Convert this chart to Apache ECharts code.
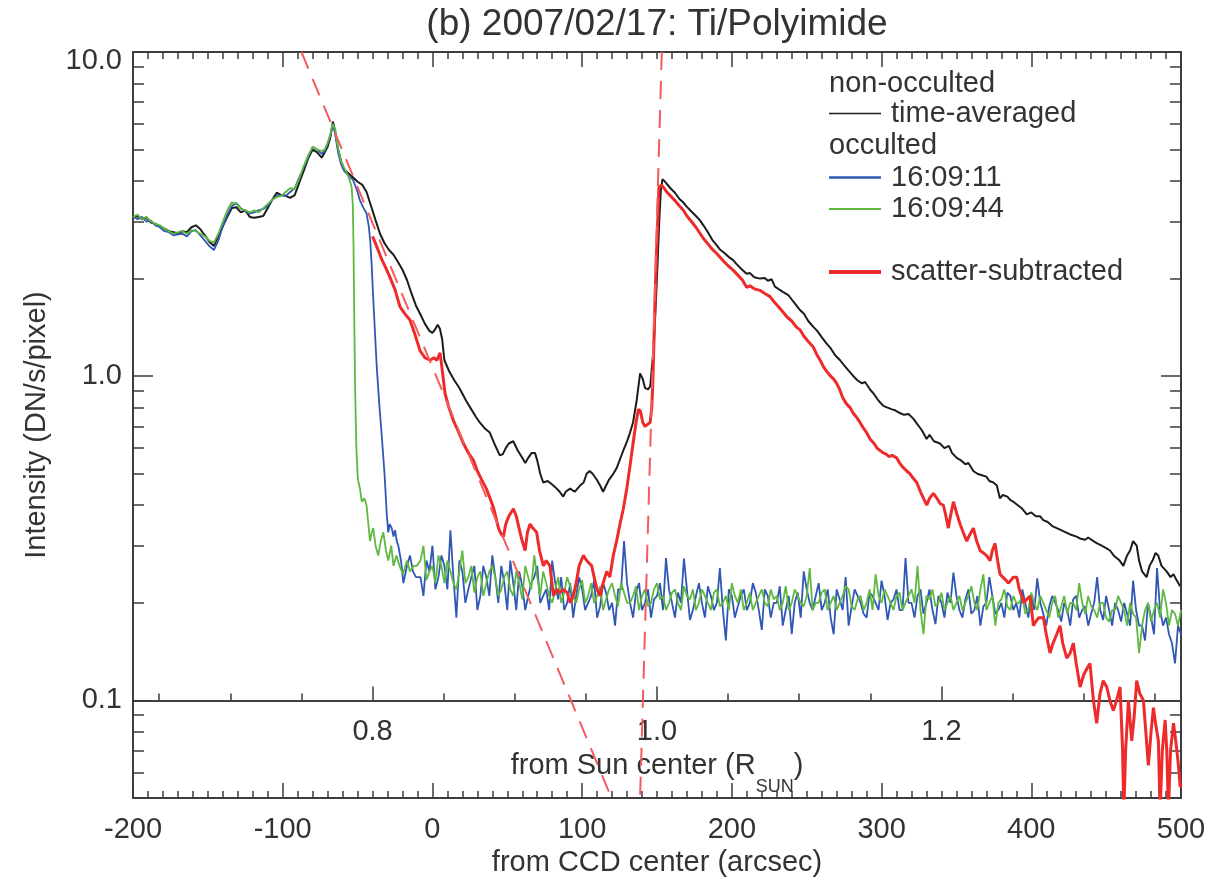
<!DOCTYPE html>
<html><head><meta charset="utf-8">
<script src="https://cdn.jsdelivr.net/npm/echarts@6/dist/echarts.min.js"></script>
<style>html,body{margin:0;padding:0;background:#fff}#c{width:1229px;height:877px}</style>
</head><body><div id="c"></div>
<script>
// ---------------- data (arcsec from CCD center, intensity DN/s/pixel) ----------------
const timeAveraged = [[-200,3.08],[-197,3.12],[-194,3.05],[-191,3.08],[-188,2.98],[-185,2.95],[-182,2.9],[-179,2.85],[-176,2.8],[-173,2.78],[-170,2.76],[-167,2.8],[-164,2.78],[-161,2.88],[-158,2.92],[-155,2.84],[-152,2.72],[-149,2.6],[-146,2.52],[-143,2.7],[-140,2.9],[-137,3.1],[-134,3.3],[-131,3.32],[-128,3.2],[-125,3.25],[-122,3.1],[-119,3.08],[-116,3.1],[-113,3.12],[-110,3.3],[-107,3.5],[-104,3.68],[-101,3.62],[-98,3.6],[-95,3.55],[-92,3.62],[-89,3.95],[-86,4.3],[-83,4.7],[-80,5.0],[-77,4.9],[-74,4.72],[-72,4.9],[-70,5.1],[-68,5.5],[-66.5,6.1],[-65,5.7],[-63,5.0],[-61,4.6],[-59,4.35],[-56,4.22],[-53,4.1],[-50,3.98],[-47,3.9],[-44,3.7],[-41,3.35],[-38,3.03],[-35,2.75],[-32,2.57],[-29,2.45],[-26,2.37],[-23,2.25],[-20,2.13],[-17,1.98],[-14,1.8],[-11,1.65],[-8,1.55],[-5,1.45],[-2,1.38],[0,1.36],[2,1.4],[3.5,1.44],[5,1.4],[6.5,1.3],[8,1.12],[11,1.04],[14.7,0.97],[18,0.92],[22.5,0.84],[26,0.79],[29,0.75],[31.6,0.72],[35,0.69],[38.3,0.67],[42,0.61],[45,0.57],[47,0.575],[49,0.6],[51,0.62],[54,0.63],[57,0.59],[60,0.56],[62,0.54],[64,0.56],[66.3,0.58],[68.5,0.58],[70,0.55],[72,0.5],[74,0.47],[77,0.475],[80.8,0.46],[83,0.45],[85,0.44],[87.4,0.425],[89,0.44],[92,0.45],[95,0.44],[98.6,0.46],[101,0.47],[103,0.5],[105,0.51],[107,0.5],[109.7,0.48],[112,0.46],[114,0.44],[116,0.46],[118,0.48],[120.8,0.5],[123,0.52],[125,0.55],[127.5,0.59],[130,0.63],[132,0.67],[134,0.72],[136.4,0.84],[138.7,1.02],[140.5,0.98],[142,0.92],[144,0.91],[145.5,0.93],[147.6,1.2],[149,1.6],[150.5,2.3],[151.5,3.0],[152.5,3.7],[153.6,4.05],[155,4.0],[156.3,3.93],[159,3.8],[162,3.68],[165,3.52],[167.4,3.44],[170,3.33],[173,3.22],[176,3.12],[178.6,3.03],[181,2.92],[184,2.78],[187,2.63],[189.7,2.54],[192,2.46],[195,2.4],[198,2.33],[200.9,2.28],[203,2.22],[206,2.15],[209.8,2.07],[212,2.08],[215,2.02],[218.8,2.0],[222,2.01],[224,1.97],[226.6,1.99],[228.8,1.89],[231,1.86],[234,1.82],[237.7,1.78],[241,1.7],[245.5,1.6],[248,1.56],[251,1.48],[254.4,1.42],[257,1.38],[260,1.32],[263.3,1.26],[266,1.22],[269,1.16],[272.3,1.12],[275,1.08],[278,1.04],[281.2,1.0],[284,0.97],[287,0.95],[289,0.96],[292.3,0.91],[295,0.88],[298,0.84],[301.2,0.81],[304,0.8],[307,0.79],[309,0.785],[312.3,0.77],[315,0.76],[318,0.765],[321.2,0.74],[324,0.71],[327,0.68],[330.1,0.64],[332,0.66],[335,0.63],[339,0.62],[342,0.6],[345,0.61],[347,0.58],[350.2,0.56],[353,0.55],[356,0.535],[358,0.54],[361.3,0.51],[364,0.5],[367,0.495],[370,0.49],[372,0.475],[374.7,0.47],[377,0.46],[379,0.42],[381,0.43],[384,0.425],[386,0.415],[388,0.41],[391,0.4],[394,0.39],[397,0.375],[400,0.38],[403,0.37],[405.8,0.37],[408,0.36],[411,0.355],[414,0.345],[417,0.34],[420,0.335],[423,0.33],[426,0.325],[430.3,0.32],[433,0.315],[436,0.313],[438,0.318],[441.5,0.31],[444,0.305],[447,0.3],[450,0.295],[452.6,0.29],[455,0.28],[457,0.275],[459,0.27],[461.5,0.26],[464,0.28],[466,0.29],[468,0.31],[470.4,0.3],[472,0.27],[474,0.25],[477,0.24],[479,0.26],[481,0.27],[483,0.285],[484.8,0.28],[487,0.26],[490.4,0.25],[493,0.24],[495,0.245],[497,0.235],[499.4,0.225]];

const occulted1 = [[-200,3.12],[-197,3.05],[-194,3.1],[-191,3.0],[-188,3.02],[-185,2.92],[-182,2.88],[-179,2.8],[-176,2.78],[-173,2.72],[-170,2.74],[-167,2.75],[-164,2.7],[-161,2.8],[-158,2.82],[-155,2.72],[-152,2.62],[-149,2.52],[-146,2.45],[-143,2.62],[-140,2.9],[-137,3.15],[-134,3.35],[-131,3.42],[-128,3.3],[-125,3.22],[-122,3.18],[-119,3.2],[-116,3.25],[-113,3.28],[-110,3.35],[-107,3.5],[-104,3.6],[-101,3.62],[-98,3.6],[-95,3.7],[-92,3.8],[-89,4.1],[-86,4.4],[-83,4.75],[-80,5.1],[-77,5.0],[-74,4.85],[-72,4.95],[-70,5.2],[-68,5.6],[-66.5,6.0],[-65,5.6],[-63,4.9],[-61,4.5],[-59,4.3],[-56,4.15],[-53,4.03],[-50,3.7],[-48.5,3.49],[-46,3.3],[-44,3.18],[-42.5,2.9],[-41.5,2.6],[-40.5,2.17],[-39.7,1.8],[-38.5,1.4],[-37.2,1.07],[-35.5,0.82],[-33.9,0.66],[-32,0.5],[-30.5,0.375],[-29.5,0.33],[-28.5,0.35],[-27.2,0.34],[-26,0.32],[-25,0.335],[-23.8,0.31],[-22.8,0.3],[-21,0.27],[-19.4,0.23],[-17,0.26],[-15,0.28],[-13,0.25],[-11,0.24],
[-8,0.24],[-4,0.27],[0,0.3],[4,0.24],[8,0.26],[12,0.335],[16,0.18],[20,0.25],[24,0.22],[28,0.26],[32,0.21],[36,0.24],[40,0.28],[44,0.2],[48,0.23],[52,0.27],[56,0.19],[60,0.225],[64,0.21],[68,0.24],[72,0.2],[76,0.22],[80,0.27],[84,0.205],[88,0.19],[92,0.23],[96,0.21],[100,0.22],[104,0.2],[108,0.235],[112,0.195],[116,0.215],[120,0.2],[124,0.22],[128,0.31],[132,0.2],[136,0.215],[140,0.19],[144,0.22],[148,0.205],[152,0.23],[156,0.275],[160,0.2],[164,0.215],[168,0.274],[172,0.177],[176,0.21],[180,0.2],[184,0.225],[188,0.19],[192,0.256],[196,0.153],[200,0.21],[204,0.195],[208,0.22],[212,0.2],[216,0.215],[220,0.165],[224,0.21],[228,0.2],[232,0.225],[236,0.19],[240,0.16],[244,0.215],[248,0.25],[252,0.2],[256,0.21],[260,0.19],[264,0.22],[268,0.16],[272,0.205],[276,0.24],[280,0.195],[284,0.21],[288,0.185],[292,0.215],[296,0.2],[300,0.234],[304,0.177],[308,0.205],[312,0.19],[316,0.275],[320,0.2],[324,0.21],[328,0.185],[332,0.22],[336,0.172],[340,0.2],[344,0.215],[348,0.248],[352,0.19],[356,0.205],[360,0.185],[364,0.21],[368,0.195],[372,0.24],[376,0.185],[380,0.2],[384,0.215],[388,0.19],[392,0.18],[396,0.2],[400,0.21],[404,0.238],[408,0.185],[412,0.195],[416,0.2],[420,0.175],[424,0.19],[428,0.205],[432,0.18],[436,0.195],[440,0.185],[444,0.24],[448,0.177],[452,0.19],[456,0.2],[460,0.175],[464,0.185],[468,0.234],[472,0.17],[476,0.153],[480,0.18],[484,0.256],[488,0.17],[492,0.16],[496,0.13],[500,0.16]];

const occulted1Between = [[-6,0.21],[-2,0.25],[2,0.22],[6,0.28],[10,0.22],[14,0.24],[18,0.27],[22,0.2],[26,0.24],[30,0.19],[34,0.26],[38,0.21],[42,0.24],[46,0.26],[50,0.19],[54,0.23],[58,0.25],[62,0.19],[66,0.23],[70,0.26],[74,0.21],[78,0.19],[82,0.23],[86,0.24],[90,0.2],[94,0.18],[98,0.24],[102,0.19],[106,0.21],[110,0.18],[114,0.23],[118,0.19],[122,0.17],[126,0.22],[130,0.23],[134,0.18],[138,0.23],[142,0.2],[146,0.18],[150,0.21],[154,0.19],[158,0.22],[162,0.18],[166,0.2],[170,0.22],[174,0.19],[178,0.23],[182,0.18],[186,0.21],[190,0.2],[194,0.19],[198,0.22],[202,0.18],[206,0.21],[210,0.19],[214,0.23],[218,0.19],[222,0.22],[226,0.18],[230,0.2],[234,0.17],[238,0.21],[242,0.2],[246,0.18],[250,0.22],[254,0.19],[258,0.23],[262,0.2],[266,0.18],[270,0.22],[274,0.19],[278,0.17],[282,0.22],[286,0.2],[290,0.18],[294,0.21],[298,0.19],[302,0.21],[306,0.2],[310,0.22],[314,0.19],[318,0.2],[322,0.18],[326,0.22],[330,0.2],[334,0.19],[338,0.21],[342,0.18],[346,0.2],[350,0.21],[354,0.18],[358,0.22],[362,0.19],[366,0.17],[370,0.2],[374,0.21],[378,0.19],[382,0.18],[386,0.21],[390,0.2],[394,0.22],[398,0.18],[402,0.19],[406,0.2],[410,0.17],[414,0.21],[418,0.19],[422,0.2],[426,0.17],[430,0.21],[434,0.19],[438,0.17],[442,0.2],[446,0.19],[450,0.21],[454,0.17],[458,0.19],[462,0.2],[466,0.17],[470,0.19],[474,0.17],[478,0.2],[482,0.16],[486,0.19],[490,0.18],[494,0.15],[498,0.17]];

const occulted2 = [[-200,3.1],[-197,3.15],[-194,3.05],[-191,3.1],[-188,3.0],[-185,2.95],[-182,2.92],[-179,2.85],[-176,2.8],[-173,2.75],[-170,2.78],[-167,2.8],[-164,2.75],[-161,2.82],[-158,2.8],[-155,2.75],[-152,2.7],[-149,2.62],[-146,2.58],[-143,2.75],[-140,3.0],[-137,3.25],[-134,3.44],[-131,3.4],[-128,3.28],[-125,3.25],[-122,3.2],[-119,3.25],[-116,3.2],[-113,3.3],[-110,3.4],[-107,3.5],[-104,3.57],[-101,3.6],[-98,3.7],[-95,3.8],[-92,3.78],[-89,4.05],[-86,4.45],[-83,4.8],[-80,5.1],[-77,5.0],[-74,4.95],[-72,5.0],[-70,5.25],[-68,5.6],[-66.7,6.0],[-65,5.8],[-63.6,5.2],[-61,4.6],[-59,4.4],[-56,4.12],[-54,3.84],[-53.2,3.4],[-52.7,2.5],[-52.2,1.5],[-51.6,0.9],[-50.8,0.6],[-49.8,0.48],[-48.4,0.45],[-47.2,0.41],[-45.5,0.42],[-44,0.4],[-42.8,0.35],[-41.7,0.31],[-40.5,0.33],[-39.5,0.34],[-38,0.3],[-36.2,0.28],[-34.5,0.31],[-32.8,0.33],[-31,0.29],[-29.5,0.27],[-27.5,0.3],[-26,0.26],[-24,0.28],[-22,0.26],[-19.7,0.245],[-17,0.27],[-15,0.25],[-12.5,0.26],[-10.5,0.26],
[-8,0.27],[-4,0.235],[0,0.26],[4,0.28],[8,0.23],[12,0.25],[16,0.22],[20,0.29],[24,0.24],[28,0.215],[32,0.25],[36,0.23],[40,0.26],[44,0.21],[48,0.24],[52,0.22],[56,0.25],[60,0.205],[64,0.24],[68,0.28],[72,0.21],[76,0.23],[80,0.2],[84,0.24],[88,0.215],[92,0.225],[96,0.2],[100,0.235],[104,0.21],[108,0.2],[112,0.225],[116,0.205],[120,0.23],[124,0.195],[128,0.215],[132,0.2],[136,0.225],[140,0.21],[144,0.195],[148,0.22],[152,0.205],[156,0.19],[160,0.215],[164,0.2],[168,0.225],[172,0.205],[176,0.19],[180,0.22],[184,0.2],[188,0.215],[192,0.195],[196,0.21],[200,0.23],[204,0.2],[208,0.19],[212,0.215],[216,0.2],[220,0.22],[224,0.195],[228,0.205],[232,0.19],[236,0.225],[240,0.2],[244,0.21],[248,0.195],[252,0.256],[256,0.2],[260,0.215],[264,0.19],[268,0.21],[272,0.2],[276,0.225],[280,0.195],[284,0.205],[288,0.19],[292,0.22],[296,0.245],[300,0.2],[304,0.21],[308,0.19],[312,0.215],[316,0.2],[320,0.22],[324,0.26],[328,0.16],[332,0.205],[336,0.195],[340,0.215],[344,0.2],[348,0.19],[352,0.21],[356,0.2],[360,0.225],[364,0.19],[368,0.245],[372,0.2],[376,0.17],[380,0.205],[384,0.195],[388,0.21],[392,0.2],[396,0.185],[400,0.215],[404,0.19],[408,0.2],[412,0.18],[416,0.21],[420,0.195],[424,0.185],[428,0.2],[432,0.23],[436,0.185],[440,0.195],[444,0.18],[448,0.2],[452,0.175],[456,0.19],[460,0.2],[464,0.17],[468,0.185],[472,0.14],[476,0.19],[480,0.175],[484,0.2],[488,0.22],[492,0.17],[496,0.185],[500,0.19]];

const occulted2Between = [[-6,0.3],[-2,0.25],[2,0.23],[6,0.26],[10,0.27],[14,0.23],[18,0.25],[22,0.23],[26,0.26],[30,0.24],[34,0.21],[38,0.25],[42,0.24],[46,0.22],[50,0.25],[54,0.21],[58,0.23],[62,0.26],[66,0.22],[70,0.24],[74,0.25],[78,0.21],[82,0.22],[86,0.2],[90,0.24],[94,0.21],[98,0.22],[102,0.2],[106,0.23],[110,0.21],[114,0.19],[118,0.22],[122,0.21],[126,0.23],[130,0.2],[134,0.21],[138,0.19],[142,0.22],[146,0.2],[150,0.23],[154,0.21],[158,0.2],[162,0.22],[166,0.19],[170,0.21],[174,0.22],[178,0.2],[182,0.21],[186,0.19],[190,0.22],[194,0.2],[198,0.19],[202,0.21],[206,0.22],[210,0.2],[214,0.19],[218,0.21],[222,0.2],[226,0.22],[230,0.21],[234,0.2],[238,0.19],[242,0.22],[246,0.2],[250,0.21],[254,0.19],[258,0.2],[262,0.22],[266,0.2],[270,0.19],[274,0.21],[278,0.22],[282,0.19],[286,0.21],[290,0.2],[294,0.19],[298,0.21],[302,0.22],[306,0.2],[310,0.21],[314,0.19],[318,0.21],[322,0.2],[326,0.19],[330,0.21],[334,0.22],[338,0.2],[342,0.19],[346,0.21],[350,0.2],[354,0.19],[358,0.21],[362,0.2],[366,0.22],[370,0.19],[374,0.21],[378,0.2],[382,0.22],[386,0.19],[390,0.2],[394,0.21],[398,0.19],[402,0.2],[406,0.21],[410,0.19],[414,0.2],[418,0.18],[422,0.21],[426,0.2],[430,0.19],[434,0.2],[438,0.21],[442,0.19],[446,0.2],[450,0.18],[454,0.19],[458,0.21],[462,0.19],[466,0.2],[470,0.18],[474,0.17],[478,0.2],[482,0.19],[486,0.18],[490,0.2],[494,0.19],[498,0.17]];

const scatterSubtracted = [[-40,2.7],[-37,2.5],[-34,2.3],[-31,2.15],[-28,2.0],[-25,1.85],[-21.7,1.64],[-18.5,1.56],[-15,1.49],[-12,1.36],[-8.3,1.2],[-5,1.14],[-1.6,1.12],[1,1.14],[3,1.12],[5.1,1.18],[6.5,1.05],[8.4,0.886],[11,0.8],[14,0.73],[17,0.68],[20.7,0.62],[24,0.58],[27.4,0.55],[30,0.51],[33,0.478],[36,0.45],[38.5,0.42],[41,0.39],[44.1,0.34],[46,0.325],[47.4,0.32],[49,0.35],[51,0.37],[54.1,0.39],[56,0.37],[58.5,0.33],[60,0.31],[61.9,0.29],[63.5,0.33],[65.2,0.35],[67,0.34],[69.6,0.33],[71.5,0.29],[74.1,0.26],[76,0.27],[78.5,0.26],[80.8,0.21],[83,0.22],[85,0.215],[87.4,0.22],[90,0.215],[92,0.2],[94.1,0.21],[96,0.23],[98,0.26],[100.8,0.28],[103,0.27],[106.4,0.26],[108,0.24],[110,0.22],[111.9,0.21],[114,0.23],[116.4,0.25],[118.5,0.24],[120.8,0.28],[123,0.31],[125.3,0.35],[127.5,0.39],[129.8,0.45],[132,0.53],[134.2,0.63],[136,0.72],[137.6,0.79],[139,0.78],[140.5,0.72],[142,0.7],[143.7,0.71],[145.4,0.72],[146.5,0.8],[147.2,0.95],[148,1.3],[148.7,1.72],[149.5,2.3],[150.5,3.0],[151.3,3.84],[153.1,3.88],[154.8,3.8],[156.5,3.7],[159,3.6],[162,3.48],[165,3.35],[167.6,3.25],[170,3.12],[173,3.0],[176,2.88],[178.7,2.76],[181,2.66],[184,2.56],[187,2.46],[189.9,2.39],[192,2.33],[195,2.25],[198,2.18],[201,2.12],[204,2.05],[207,1.98],[209.9,1.88],[212,1.9],[215,1.86],[218.8,1.84],[222,1.8],[225.5,1.76],[228,1.7],[231,1.64],[234,1.58],[237,1.52],[240,1.48],[243,1.42],[245.5,1.39],[248,1.33],[251,1.28],[254.4,1.23],[257,1.16],[259,1.12],[261.1,1.07],[263,1.04],[266,1.0],[268,0.98],[270,0.95],[272,0.91],[274,0.86],[276.7,0.82],[279,0.8],[281,0.77],[283,0.75],[285.6,0.72],[288,0.69],[290,0.67],[292.3,0.64],[295,0.62],[297,0.6],[299,0.59],[301.2,0.58],[303,0.575],[305,0.565],[307,0.57],[310.1,0.56],[312,0.54],[314,0.525],[316.8,0.51],[319,0.5],[321,0.485],[323.5,0.47],[326,0.44],[328,0.42],[330.2,0.4],[332,0.42],[334.6,0.435],[337,0.42],[339,0.405],[341.3,0.4],[343,0.37],[344.6,0.34],[346,0.37],[348,0.41],[350,0.38],[352.4,0.35],[354.5,0.33],[356.9,0.31],[359,0.325],[361.3,0.34],[363.5,0.31],[365.8,0.29],[368,0.285],[370,0.28],[372.5,0.27],[374,0.29],[375.8,0.305],[377.5,0.27],[379.1,0.245],[381,0.24],[383,0.235],[384.7,0.23],[386.5,0.235],[388,0.24],[390.3,0.24],[392,0.22],[393.6,0.21],[395,0.2],[397,0.205],[399.2,0.21],[400.5,0.185],[401.4,0.17],[403,0.175],[405,0.18],[408.1,0.18],[410,0.16],[412.5,0.14],[414.5,0.15],[417,0.16],[419.2,0.17],[421,0.15],[423.7,0.135],[426,0.14],[428.1,0.15],[430,0.13],[432.6,0.11],[435,0.12],[437,0.125],[439.2,0.13],[441.5,0.1],[443.7,0.085],[445.9,0.105],[448,0.115],[450.4,0.11],[452.5,0.1],[454.8,0.093],[457,0.1],[459.3,0.11],[461,0.07],[461.8,0.045],[463,0.07],[464.9,0.1],[467.1,0.075],[468.8,0.09],[470.4,0.115],[472.5,0.105],[474.9,0.1],[476.5,0.08],[478.2,0.063],[480,0.08],[481.6,0.095],[483,0.085],[484.9,0.075],[486,0.045],[487.5,0.07],[489.4,0.087],[490.5,0.07],[491.6,0.045],[493,0.07],[495,0.085],[496.5,0.075],[498,0.065],[499.5,0.054],[500,0.055]];

// straight fits (dashed) drawn as two end points each
const fitInner = [[-87.5,10],[119.6,0.05]];
const fitLimb = [[153.2,10],[138.7,0.05]];

// axis tick values
const yMajor = [0.1, 1, 10];
const yMinor = [0.05,0.06,0.07,0.08,0.09,0.2,0.3,0.4,0.5,0.6,0.7,0.8,0.9,2,3,4,5,6,7,8,9];
const rMajor = [0.8, 1.0, 1.2];
const rMinor = [0.65,0.7,0.75,0.85,0.9,0.95,1.05,1.1,1.15,1.25,1.3,1.35];

// ---------------- constants ----------------
const X_MIN = -200, X_MAX = 500, Y_MIN = 0.05, Y_MAX = 10;
const SUN_CENTER_ARCSEC = 150, ARCSEC_PER_RSUN = 950;
const toR = a => 1 + (a - SUN_CENTER_ARCSEC) / ARCSEC_PER_RSUN;
const GRID = {left:133, top:52, width:1048, height:746};
const rOffset = GRID.height * (Math.log10(0.1) - Math.log10(Y_MIN)) / (Math.log10(Y_MAX) - Math.log10(Y_MIN));
const byX = (a, b) => a[0] - b[0];
const occ1All = occulted1.concat(occulted1Between).sort(byX);
const occ2All = occulted2.concat(occulted2Between).sort(byX);

const FONT = 'Liberation Sans';
const AX = '#3d3d3d';
const TXT = '#333333';
const FS = 29;
const lineSty = {color: AX, width: 2};
const tickSty = {color: AX, width: 1.5};

const chart = echarts.init(document.getElementById('c'), null, {renderer: 'canvas'});

const arcsecAxis = (pos, labels) => ({
  type: 'value', gridIndex: 0, position: pos, min: X_MIN, max: X_MAX, interval: 100,
  axisLine: {show: true, onZero: false, lineStyle: lineSty},
  axisTick: {show: true, inside: true, length: 15, lineStyle: tickSty},
  minorTick: {show: true, splitNumber: 10, length: 7, lineStyle: tickSty},
  axisLabel: {show: labels, fontSize: FS, color: TXT, margin: 17, fontFamily: FONT},
  splitLine: {show: false}, minorSplitLine: {show: false}
});

const logAxis = (pos, ticks, len, line, labels) => ({
  type: 'log', logBase: 10, gridIndex: 0, position: pos, min: Y_MIN, max: Y_MAX,
  axisLine: {show: line, onZero: false, lineStyle: lineSty},
  axisTick: {show: true, inside: true, length: len, customValues: ticks, lineStyle: tickSty},
  axisLabel: labels ? {
    show: true, customValues: ticks, margin: 11, fontSize: FS, color: TXT, fontFamily: FONT,
    formatter: v => v > 5 ? '{top|10.0}' : (v > 0.5 ? '1.0' : '0.1'),
    rich: {top: {fontSize: FS, color: TXT, fontFamily: FONT, padding: [18, 0, 0, 0]}}
  } : {show: false},
  splitLine: {show: false}, minorTick: {show: false}
});

const rAxis = (ticks, len, line, labels) => ({
  type: 'value', gridIndex: 0, position: 'bottom', offset: -rOffset,
  min: toR(X_MIN), max: toR(X_MAX),
  axisLine: {show: line, onZero: false, lineStyle: lineSty},
  axisTick: {show: true, inside: true, length: len, customValues: ticks, lineStyle: tickSty},
  axisLabel: labels ? {show: true, customValues: ticks, margin: 17, fontSize: FS, color: TXT, fontFamily: FONT,
    formatter: v => v.toFixed(1)} : {show: false},
  splitLine: {show: false}
});

const xA0 = arcsecAxis('bottom', true);
xA0.name = 'from CCD center (arcsec)';
xA0.nameLocation = 'middle';
xA0.nameGap = 50;
xA0.nameTextStyle = {fontSize: FS, color: TXT, fontFamily: FONT};

const xR = rAxis(rMajor, 14, true, true);
xR.name = '{a|from Sun center (R}{s|SUN}{a|)}';
xR.nameLocation = 'middle';
xR.nameGap = 49;
xR.nameTextStyle = {rich: {
  a: {fontSize: FS, color: TXT, fontFamily: FONT, lineHeight: 30, verticalAlign: 'top'},
  s: {fontSize: 18, color: TXT, fontFamily: FONT, lineHeight: 72}
}};

const yL = logAxis('left', yMajor, 20, true, true);
yL.name = 'Intensity (DN/s/pixel)';
yL.nameLocation = 'middle';
yL.nameGap = 82;
yL.nameRotate = 90;
yL.nameTextStyle = {fontSize: FS, color: TXT, fontFamily: FONT};

const C_BLACK = '#1c1c1c', C_BLUE = '#2f57b3', C_GREEN = '#5fb940', C_RED = '#ee2b2b';

const lineSeries = (name, data, color, width, z) => ({
  type: 'line', name, data, xAxisIndex: 0, yAxisIndex: 0, symbol: 'none', showSymbol: false,
  lineStyle: {color, width}, itemStyle: {color}, z, clip: true, animation: false
});
const dashSeries = data => ({
  type: 'line', data, xAxisIndex: 0, yAxisIndex: 0, symbol: 'none', showSymbol: false, silent: true,
  lineStyle: {color: '#f25c5c', width: 2, type: [18, 11]}, z: 10, clip: true, animation: false
});

const legendItem = (name, top, h) => ({
  data: [{name, icon: 'rect'}], orient: 'vertical', left: 829, top, itemWidth: 52, itemHeight: h, padding: 0,
  selectedMode: false, textStyle: {fontSize: FS, color: TXT, fontFamily: FONT, padding: [0, 0, 0, 5]}
});

chart.setOption({
  animation: false,
  textStyle: {fontFamily: FONT},
  grid: Object.assign({containLabel: false, outerBoundsMode: 'none'}, GRID),
  xAxis: [xA0, arcsecAxis('top', false), xR, rAxis(rMinor, 7, false, false)],
  yAxis: [yL, logAxis('left', yMinor, 11, false, false), logAxis('right', yMajor, 20, true, false), logAxis('right', yMinor, 11, false, false)],
  legend: [
    legendItem('time-averaged', 99, 1.6),
    legendItem('16:09:11', 163, 2.6),
    legendItem('16:09:44', 194.5, 2),
    legendItem('scatter-subtracted', 257.5, 4)
  ],
  graphic: [
    {type: 'text', x: 657, y: 24.5, style: {text: '(b) 2007/02/17: Ti/Polyimide', fontSize: 37, fontFamily: FONT, fill: TXT, align: 'center', verticalAlign: 'middle'}},
    {type: 'text', x: 829, y: 83.5, style: {text: 'non-occulted', fontSize: FS, fontFamily: FONT, fill: TXT, align: 'left', verticalAlign: 'middle'}},
    {type: 'text', x: 829, y: 146, style: {text: 'occulted', fontSize: FS, fontFamily: FONT, fill: TXT, align: 'left', verticalAlign: 'middle'}}
  ],
  series: [
    lineSeries('time-averaged', timeAveraged, C_BLACK, 2, 3),
    lineSeries('16:09:11', occ1All, C_BLUE, 1.8, 4),
    lineSeries('16:09:44', occ2All, C_GREEN, 1.8, 5),
    lineSeries('scatter-subtracted', scatterSubtracted, C_RED, 3, 6),
    dashSeries(fitInner),
    dashSeries(fitLimb)
  ]
});
</script>
</body></html>
